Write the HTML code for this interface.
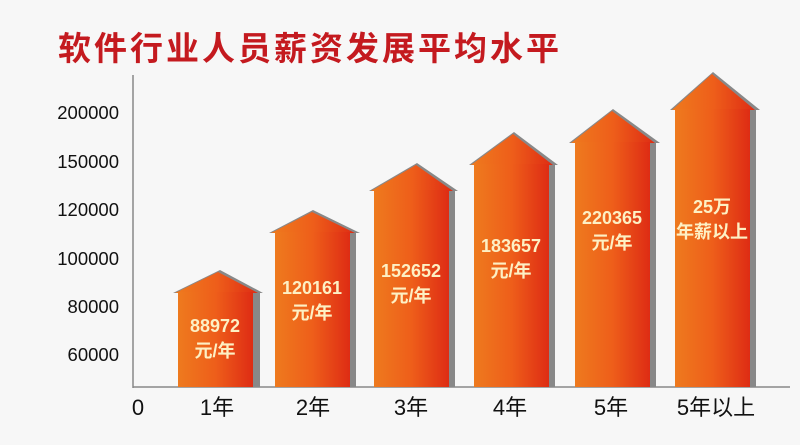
<!DOCTYPE html>
<html><head><meta charset="utf-8"><style>
html,body{margin:0;padding:0;background:#f7f7f7;}
svg{display:block}
</style></head><body>
<svg width="800" height="445" viewBox="0 0 800 445" xmlns="http://www.w3.org/2000/svg">
<defs>
<linearGradient id="g" x1="0" x2="1" y1="0" y2="0">
<stop offset="0" stop-color="#ee7a1e"/><stop offset="0.5" stop-color="#ee5e1a"/><stop offset="1" stop-color="#de2c14"/>
</linearGradient>
</defs>
<rect width="800" height="445" fill="#f7f7f7"/>
<text x="58" y="60" font-family="Liberation Sans, Noto Sans CJK SC, sans-serif" font-size="33" font-weight="bold" fill="#c41a1f" letter-spacing="3">软件行业人员薪资发展平均水平</text>
<line x1="133" y1="75" x2="133" y2="388" stroke="#888" stroke-width="1.5"/>
<line x1="133" y1="387" x2="790" y2="387" stroke="#888" stroke-width="1.5"/>
<g font-family="Liberation Sans, sans-serif" font-size="18.5" fill="#111" text-anchor="end">
<text x="119" y="119">200000</text>
<text x="119" y="168">150000</text>
<text x="119" y="216">120000</text>
<text x="119" y="265">100000</text>
<text x="119" y="313">80000</text>
<text x="119" y="361">60000</text>
</g>
<g>
<rect x="253" y="293" width="7" height="94" fill="#888"/>
<polygon points="173,293 220,270 263,293" fill="#888"/>
<polygon points="175,293 218,272 258,293" fill="url(#g)"/>
<rect x="178" y="292" width="75" height="95" fill="url(#g)"/>
</g>
<g>
<rect x="350" y="233" width="6" height="154" fill="#888"/>
<polygon points="269,233 313,210 360,233" fill="#888"/>
<polygon points="271,233 312,212 355,233" fill="url(#g)"/>
<rect x="275" y="232" width="75" height="155" fill="url(#g)"/>
</g>
<g>
<rect x="449" y="191" width="6" height="196" fill="#888"/>
<polygon points="369,191 417,163 458,191" fill="#888"/>
<polygon points="371,191 416,165 453,191" fill="url(#g)"/>
<rect x="374" y="190" width="75" height="197" fill="url(#g)"/>
</g>
<g>
<rect x="549" y="165" width="6" height="222" fill="#888"/>
<polygon points="469,165 514,132 558,165" fill="#888"/>
<polygon points="471,165 513,134 553,165" fill="url(#g)"/>
<rect x="474" y="164" width="75" height="223" fill="url(#g)"/>
</g>
<g>
<rect x="650" y="143" width="6" height="244" fill="#888"/>
<polygon points="569,143 613,109 660,143" fill="#888"/>
<polygon points="571,143 612,111 655,143" fill="url(#g)"/>
<rect x="575" y="142" width="75" height="245" fill="url(#g)"/>
</g>
<g>
<rect x="750" y="110" width="6" height="277" fill="#888"/>
<polygon points="670,110 713,72 760,110" fill="#888"/>
<polygon points="672,110 712,74 755,110" fill="url(#g)"/>
<rect x="675" y="109" width="75" height="278" fill="url(#g)"/>
</g>
<g font-family="Liberation Sans, Noto Sans CJK SC, sans-serif" font-size="18" fill="#fdf0c4" text-anchor="middle" font-weight="600">
<text x="215" y="332">88972</text><text x="215" y="357">元/年</text>
<text x="312" y="294">120161</text><text x="312" y="319">元/年</text>
<text x="411" y="277">152652</text><text x="411" y="302">元/年</text>
<text x="511" y="252">183657</text><text x="511" y="277">元/年</text>
<text x="612" y="224">220365</text><text x="612" y="249">元/年</text>
<text x="712" y="213">25万</text><text x="712" y="238">年薪以上</text>
</g>
<g font-family="Liberation Sans, Noto Sans CJK SC, sans-serif" font-size="22" fill="#111" text-anchor="middle">
<text x="138" y="415">0</text>
<text x="217" y="415">1年</text>
<text x="313" y="415">2年</text>
<text x="411" y="415">3年</text>
<text x="510" y="415">4年</text>
<text x="611" y="415">5年</text>
<text x="716" y="415">5年以上</text>
</g>
</svg>
</body></html>
